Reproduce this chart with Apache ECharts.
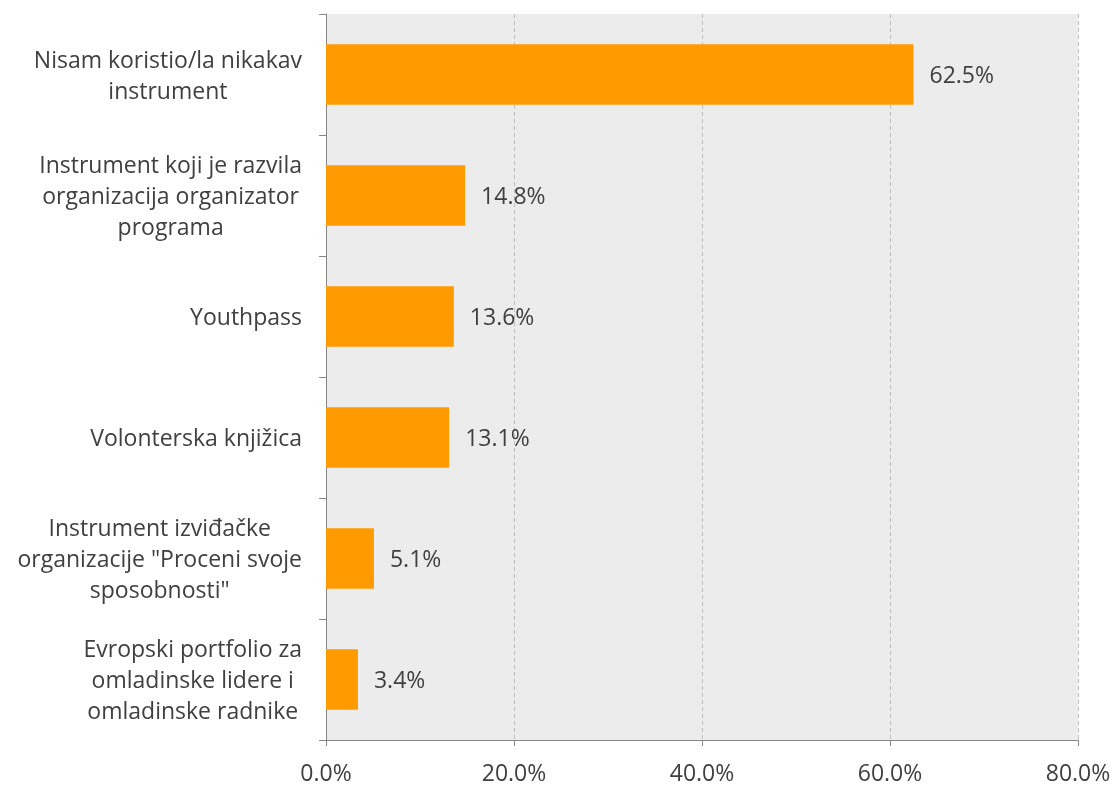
<!DOCTYPE html>
<html>
<head>
<meta charset="utf-8">
<script src="https://cdn.jsdelivr.net/npm/echarts@6/dist/echarts.min.js"></script>
<style>
  html, body { margin: 0; padding: 0; background: #ffffff; }
  #chart { width: 1115px; height: 787px; }
</style>
</head>
<body>
<div id="chart"></div>
<script>
// Instruments used to recognise learning outcomes (share of respondents, %)
const categories = [
  'Nisam koristio/la nikakav\ninstrument',
  'Instrument koji je razvila\norganizacija organizator\nprograma',
  'Youthpass',
  'Volonterska knjižica',
  'Instrument izviđačke\norganizacije "Proceni svoje\nsposobnosti"',
  'Evropski portfolio za\nomladinske lidere i\nomladinske radnike'
];
const values = [62.5, 14.8, 13.6, 13.1, 5.1, 3.4];
const xTicks = [0, 20, 40, 60, 80];

const FONT = '"Open Sans", "Liberation Sans", sans-serif';
const TEXT = '#404040';
const SIZE = 23;

const chart = echarts.init(document.getElementById('chart'), null, { renderer: 'canvas' });
chart.setOption({
  animation: false,
  backgroundColor: '#ffffff',
  textStyle: { fontFamily: FONT },
  grid: {
    left: 326, right: 37, top: 14, bottom: 47,
    show: true, backgroundColor: '#ececec', borderWidth: 0
  },
  xAxis: {
    type: 'value',
    min: xTicks[0], max: xTicks[xTicks.length - 1], interval: 20,
    axisLine: { show: true, lineStyle: { color: '#868686', width: 1 } },
    axisTick: { show: true, length: 6, lineStyle: { color: '#868686' } },
    splitLine: { show: true, lineStyle: { color: '#bdbdbd', type: [4, 3], width: 1 } },
    axisLabel: {
      color: TEXT, fontSize: SIZE, fontFamily: FONT, margin: 23,
      formatter: v => v.toFixed(1) + '%'
    }
  },
  yAxis: {
    type: 'category',
    data: categories,
    inverse: true,
    axisLine: { show: true, lineStyle: { color: '#868686', width: 1 } },
    axisTick: { show: true, length: 7, alignWithLabel: false, lineStyle: { color: '#868686' } },
    splitLine: { show: false },
    axisLabel: {
      margin: 24,
      align: 'right',
      lineHeight: 31,
      padding: [4, 0, 0, 0],
      formatter: v => v.split('\n').map(s => '{c|' + s + '}').join('\n'),
      rich: {
        c: { align: 'center', color: TEXT, fontSize: SIZE, fontFamily: FONT, lineHeight: 31 }
      }
    }
  },
  series: [{
    type: 'bar',
    data: values,
    barCategoryGap: '50%',
    itemStyle: { color: '#ff9a00' },
    label: {
      show: true, position: 'right', distance: 16, offset: [0, 2],
      color: TEXT, fontSize: SIZE, fontFamily: FONT,
      formatter: p => p.value.toFixed(1) + '%'
    }
  }]
});
</script>
</body>
</html>
